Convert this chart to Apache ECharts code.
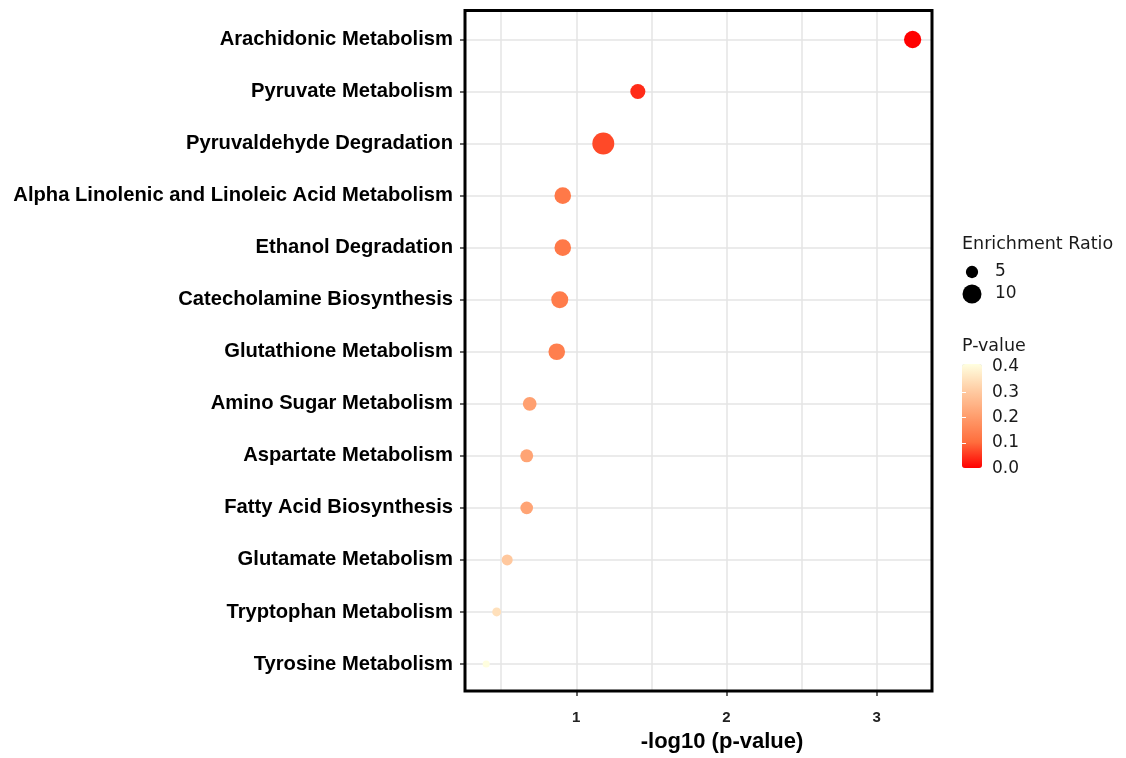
<!DOCTYPE html>
<html><head><meta charset="utf-8">
<script src="https://cdn.jsdelivr.net/npm/echarts@6/dist/echarts.min.js"></script>
<style>html,body{margin:0;padding:0;background:#fff}#c{width:1126px;height:758px}</style>
</head><body><div id="c"></div>
<script>
const pathways = ['Arachidonic Metabolism','Pyruvate Metabolism','Pyruvaldehyde Degradation','Alpha Linolenic and Linoleic Acid Metabolism','Ethanol Degradation','Catecholamine Biosynthesis','Glutathione Metabolism','Amino Sugar Metabolism','Aspartate Metabolism','Fatty Acid Biosynthesis','Glutamate Metabolism','Tryptophan Metabolism','Tyrosine Metabolism'];
const negLog10P = [3.24, 1.41, 1.18, 0.91, 0.91, 0.89, 0.87, 0.69, 0.67, 0.67, 0.54, 0.47, 0.40];
const enrichmentRatio = [8.5, 6.8, 12.9, 8.0, 8.0, 8.3, 8.0, 5.9, 5.4, 5.2, 4.3, 3.3, 2.6];
const xTicks = [1, 2, 3];
const sizeLegendValues = [5, 10];
const pBarTicks = [0.1, 0.2, 0.3];
const pColors = ['#FF0000', '#FF6E3D', '#FF9E6E', '#FFCDA4', '#FFFFE0'];

const sizeOf = v => Math.sqrt(Math.max(42 * v - 59, 16));
const LEG_FONT = 'DejaVu Sans';
const GRID_COL = '#E4E4E4';
const X_MIN = 0.259, X_MAX = 3.369;

const chart = echarts.init(document.getElementById('c'), null, {renderer: 'canvas'});
chart.setOption({
  animation: false,
  backgroundColor: '#fff',
  title: [
    {text: 'Enrichment Ratio', left: 962, top: 235, padding: 0,
     textStyle: {fontFamily: LEG_FONT, fontSize: 17.5, fontWeight: 'normal', color: '#1a1a1a'}},
    {text: 'P-value', left: 962, top: 337, padding: 0,
     textStyle: {fontFamily: LEG_FONT, fontSize: 17.5, fontWeight: 'normal', color: '#1a1a1a'}}
  ],
  grid: [
    {left: 465, right: 194, top: 10.5, bottom: 65.5, show: true, borderColor: '#000', borderWidth: 3, backgroundColor: 'transparent', z: 5},
    {left: 465, right: 194, top: 39.5, bottom: 94},
    {left: 962, width: 20, top: 261, height: 44},
    {left: 962, width: 20, top: 366.7, height: 101.6}
  ],
  xAxis: [
    {gridIndex: 0, type: 'value', min: X_MIN, max: X_MAX,
     axisLine: {show: false},
     axisTick: {show: true, customValues: xTicks, length: 5, lineStyle: {color: '#333', width: 1.5}},
     axisLabel: {customValues: xTicks, fontFamily: 'Liberation Sans', fontWeight: 'bold', fontSize: 15, color: '#222', margin: 19},
     splitLine: {show: false},
     name: '-log10 (p-value)', nameLocation: 'middle', nameGap: 40,
     nameTextStyle: {fontFamily: 'Liberation Sans', fontWeight: 'bold', fontSize: 22, color: '#000', padding: [0, 0, 0, 47]}},
    {gridIndex: 1, type: 'value', min: X_MIN, max: X_MAX, show: false},
    {gridIndex: 2, type: 'value', min: 0, max: 1, show: false},
    {gridIndex: 3, type: 'value', min: 0, max: 1, show: false},
    {gridIndex: 0, type: 'value', min: X_MIN, max: X_MAX, splitNumber: 7, minInterval: 0.5, maxInterval: 0.5,
     axisLine: {show: false}, axisTick: {show: false}, axisLabel: {show: false},
     splitLine: {show: true, lineStyle: {color: GRID_COL, width: 1.5}}}
  ],
  yAxis: [
    {gridIndex: 0, type: 'value', min: 0, max: 1, show: false},
    {gridIndex: 1, type: 'category', data: pathways, inverse: true, boundaryGap: false,
     axisLine: {show: false},
     axisTick: {show: true, length: 5, lineStyle: {color: '#333', width: 1.5}},
     axisLabel: {fontFamily: 'Liberation Sans', fontWeight: 'bold', fontSize: 20.2, color: '#000', margin: 12, interval: 0},
     splitLine: {show: true, lineStyle: {color: GRID_COL, width: 1.5}}},
    {gridIndex: 2, type: 'category', data: sizeLegendValues.map(String), inverse: true, position: 'right',
     axisLine: {show: false}, axisTick: {show: false}, splitLine: {show: false},
     axisLabel: {fontFamily: LEG_FONT, fontSize: 17, color: '#1a1a1a', margin: 13, interval: 0}},
    {gridIndex: 3, type: 'value', min: 0, max: 0.4, interval: 0.1, position: 'right', z: 10,
     axisLine: {show: false}, splitLine: {show: false},
     axisTick: {show: true, inside: true, length: 4, customValues: pBarTicks, lineStyle: {color: '#fff', width: 1}},
     axisLabel: {fontFamily: LEG_FONT, fontSize: 17, color: '#1a1a1a', margin: 10, formatter: v => v.toFixed(1)}},
    {gridIndex: 3, type: 'value', min: 0, max: 0.4, interval: 0.1, position: 'left', z: 10,
     axisLine: {show: false}, splitLine: {show: false}, axisLabel: {show: false},
     axisTick: {show: true, inside: true, length: 4, customValues: pBarTicks, lineStyle: {color: '#fff', width: 1}}}
  ],
  visualMap: [{
    type: 'continuous', seriesIndex: 0, dimension: 2, min: 0, max: 0.4,
    left: 962, top: 364, itemWidth: 20, itemHeight: 104, padding: 0,
    calculable: false, hoverLink: false, text: null, showLabel: false,
    inRange: {color: pColors}
  }],
  series: [
    {type: 'scatter', xAxisIndex: 1, yAxisIndex: 1, z: 3,
     data: pathways.map((p, i) => [negLog10P[i], p, Math.pow(10, -negLog10P[i]), enrichmentRatio[i]]),
     symbolSize: v => sizeOf(v[3]),
     itemStyle: {opacity: 1}},
    {type: 'scatter', xAxisIndex: 2, yAxisIndex: 2,
     data: sizeLegendValues.map(v => ({value: [0.5, String(v)], symbolSize: sizeOf(v)})),
     itemStyle: {color: '#000', opacity: 1}}
  ]
});
</script></body></html>
